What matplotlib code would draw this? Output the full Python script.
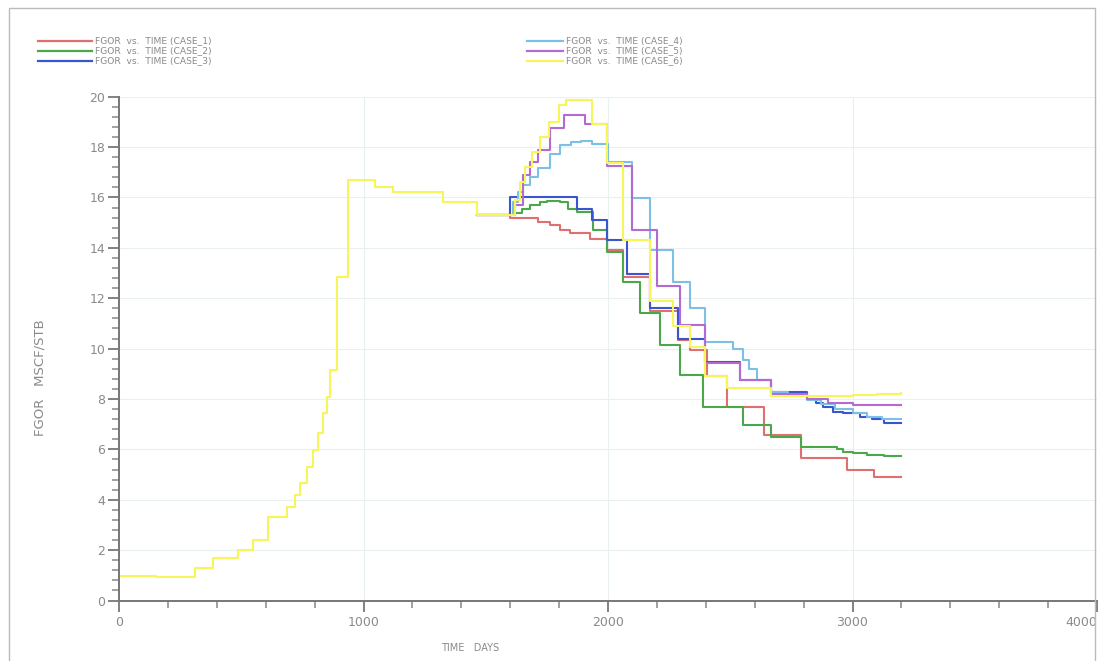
import numpy as np
import matplotlib
matplotlib.use("Agg")
import matplotlib.pyplot as plt
from matplotlib.lines import Line2D
from matplotlib.patches import Rectangle
from matplotlib.ticker import MultipleLocator

# ---- data (days, FGOR MSCF/STB), step-post ----
hist_days = [0, 150, 311, 386, 488, 549, 611, 686, 720, 740, 767, 795, 815, 836,
             849, 863, 890, 938, 1047, 1122, 1327, 1463]
hist_fgor = [0.98, 0.92, 1.29, 1.67, 2.0, 2.4, 3.3, 3.72, 4.19, 4.65, 5.31, 5.97, 6.63, 7.43,
             8.09, 9.15, 12.85, 16.69, 16.42, 16.22, 15.83, 15.3]

case1_days = [1600, 1715, 1763, 1804, 1845, 1926, 1995, 2063, 2172, 2288, 2335, 2404, 2485,
              2640, 2789, 2976, 3086, 3200]
case1_fgor = [15.17, 15.04, 14.9, 14.7, 14.57, 14.36, 13.9, 12.85, 11.5, 10.34, 9.94, 8.9, 7.7,
              6.57, 5.64, 5.18, 4.91, 4.91]

case2_days = [1600, 1620, 1650, 1680, 1720, 1750, 1804, 1838, 1872, 1940, 1995, 2063, 2131,
              2213, 2295, 2390, 2553, 2667, 2789, 2936, 2960, 3000, 3060, 3130, 3200]
case2_fgor = [15.3, 15.4, 15.55, 15.7, 15.8, 15.85, 15.83, 15.56, 15.43, 14.7, 13.85, 12.65, 11.4,
              10.14, 8.95, 7.7, 6.96, 6.5, 6.1, 6.0, 5.9, 5.85, 5.78, 5.72, 5.72]

case3_days = [1600, 1872, 1933, 1995, 2077, 2172, 2288, 2397, 2540, 2667, 2813, 2850, 2880,
              2920, 2960, 3030, 3080, 3130, 3200]
case3_fgor = [16.0, 15.56, 15.1, 14.3, 12.98, 11.6, 10.4, 9.47, 8.75, 8.29, 8.0, 7.83, 7.7,
              7.5, 7.45, 7.3, 7.2, 7.05, 7.05]

case4_days = [1600, 1610, 1630, 1654, 1681, 1715, 1763, 1804, 1850, 1890, 1933, 2002, 2097,
              2172, 2267, 2335, 2397, 2513, 2554, 2575, 2608, 2667, 2735, 2813, 2870, 2930,
              3000, 3060, 3120, 3200]
case4_fgor = [15.3, 15.8, 16.2, 16.5, 16.8, 17.15, 17.74, 18.08, 18.2, 18.25, 18.12, 17.42, 15.96,
              13.9, 12.65, 11.6, 10.27, 10.0, 9.54, 9.2, 8.75, 8.29, 8.1, 7.96, 7.8, 7.6,
              7.45, 7.3, 7.22, 7.22]

case5_days = [1600, 1620, 1654, 1681, 1715, 1763, 1818, 1906, 1995, 2097, 2199, 2295, 2397,
              2540, 2667, 2813, 2900, 3000, 3100, 3200]
case5_fgor = [15.3, 15.7, 16.9, 17.42, 17.88, 18.74, 19.26, 18.93, 17.25, 14.7, 12.5, 10.93, 9.41,
              8.75, 8.2, 8.0, 7.85, 7.78, 7.75, 7.75]

case6_days = [1600, 1620, 1640, 1660, 1690, 1720, 1760, 1800, 1830, 1933, 1995, 2063, 2172,
              2267, 2335, 2397, 2486, 2667, 2813, 2900, 3000, 3100, 3200]
case6_fgor = [15.3, 15.9, 16.6, 17.2, 17.8, 18.4, 19.0, 19.66, 19.86, 18.93, 17.35, 14.3, 11.9,
              10.9, 10.07, 8.9, 8.42, 8.1, 8.1, 8.12, 8.15, 8.2, 8.22]

x_ticks = [0, 1000, 2000, 3000, 4000]
x_ticklabels = ["0", "1000", "2000", "3000", "4000"]

labels = ["FGOR  vs.  TIME (CASE_1)", "FGOR  vs.  TIME (CASE_2)", "FGOR  vs.  TIME (CASE_3)",
          "FGOR  vs.  TIME (CASE_4)", "FGOR  vs.  TIME (CASE_5)", "FGOR  vs.  TIME (CASE_6)"]
colors = ["#e07070", "#4aa84a", "#3a55d0", "#7cc0e6", "#b46ad2", "#f6f65a"]

cases = [(case1_days, case1_fgor), (case2_days, case2_fgor), (case3_days, case3_fgor),
         (case4_days, case4_fgor), (case5_days, case5_fgor), (case6_days, case6_fgor)]

plt.rcParams['font.family'] = ['DejaVu Sans']

W, H = 1101, 661
fig = plt.figure(figsize=(W / 100, H / 100), dpi=100)
ax = fig.add_axes([119 / W, (H - 600.5) / H, (1097 - 119) / W, (600.5 - 96.7) / H])

n = len(cases)
for k, ((d, v), c) in enumerate(zip(cases, colors)):
    if k == n - 1:
        t = np.concatenate([hist_days, d])
        y = np.concatenate([hist_fgor, v])
    else:
        # shared history is drawn once (by the last case); others start from its last step
        t = np.concatenate([hist_days[-1:], d])
        y = np.concatenate([hist_fgor[-1:], v])
    ax.step(t, y, where='post', color=c, lw=1.5)

ax.set_xlim(0, 4000)
ax.set_ylim(0, 20)
ax.set_xticks(x_ticks)
ax.set_xticklabels(x_ticklabels)
ax.xaxis.set_minor_locator(MultipleLocator(200))
ax.yaxis.set_major_locator(MultipleLocator(2))
ax.yaxis.set_minor_locator(MultipleLocator(0.4))
for s in ['top', 'right']:
    ax.spines[s].set_visible(False)
for s in ['left', 'bottom']:
    ax.spines[s].set_color('#777777')
    ax.spines[s].set_linewidth(1.4)
ax.tick_params(axis='x', which='major', length=8, width=1.3, color='#777777',
               labelsize=9, labelcolor='#8a8a8a', pad=3)
ax.tick_params(axis='x', which='minor', length=5, width=1.1, color='#888888')
ax.tick_params(axis='y', which='major', length=8, width=1.3, color='#777777',
               labelsize=9, labelcolor='#8a8a8a', pad=2)
ax.tick_params(axis='y', which='minor', length=5, width=1.1, color='#888888')
ax.grid(True, which='major', color='#e8f0f2', lw=0.8)
ax.set_axisbelow(True)
ax.xaxis.get_major_ticks()[-1].label1.set_horizontalalignment('right')

fig.text(40 / W, 1 - 378 / H, "FGOR   MSCF/STB", rotation=90, ha='center', va='center',
         fontsize=9.5, color='#8a8a8a')
fig.text(470 / W, 1 - 648 / H, "TIME   DAYS", ha='center', va='center',
         fontsize=7, color='#8a8a8a')

# legend
rows = [41, 51, 61]
for i in range(3):
    yy = 1 - rows[i] / H
    fig.add_artist(Line2D([38 / W, 92 / W], [yy, yy], color=colors[i], lw=1.6))
    fig.text(95 / W, yy, labels[i], fontsize=6.6, color='#8a8a8a', va='center', ha='left')
for i in range(3):
    yy = 1 - rows[i] / H
    fig.add_artist(Line2D([527 / W, 563 / W], [yy, yy], color=colors[i + 3], lw=1.6))
    fig.text(566 / W, yy, labels[i + 3], fontsize=6.6, color='#8a8a8a', va='center', ha='left')

fig.add_artist(Rectangle((9 / W, -0.01), (1095 - 9) / W, 1 - 8 / H + 0.01,
                         transform=fig.transFigure, fill=False, ec='#bbbbbb', lw=1.0))

fig.savefig("out.png", dpi=100)
